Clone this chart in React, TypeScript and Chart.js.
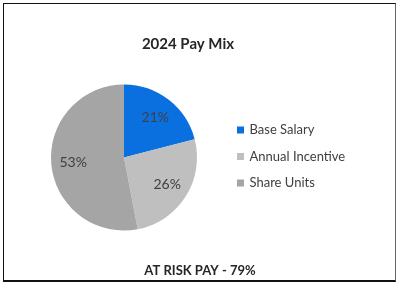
import React, { useEffect, useRef } from "react";
import { Chart, registerables } from "chart.js";

Chart.register(...registerables);

const categories = ["Base Salary", "Annual Incentive", "Share Units"];
const values = [21, 26, 53];
const colors = ["#0A70E0", "#BFBFBF", "#A5A5A5"];
const title = "2024 Pay Mix";
const footer = "AT RISK PAY - 79%";

const FONT = "Lato, 'Noto Sans', sans-serif";

const overlay = {
  id: "overlay",
  afterDatasetsDraw(chart: any) {
    const ctx = chart.ctx;
    const meta = chart.getDatasetMeta(0);
    ctx.save();
    // value labels
    ctx.font = `14px ${FONT}`;
    ctx.fillStyle = "#404040";
    ctx.textAlign = "center";
    ctx.textBaseline = "middle";
    meta.data.forEach((arc: any, i: number) => {
      const p = arc.getProps(["x", "y", "startAngle", "endAngle", "outerRadius"], true);
      const mid = (p.startAngle + p.endAngle) / 2;
      const r = p.outerRadius * 0.7;
      ctx.fillText(values[i] + "%", p.x + Math.cos(mid) * r, p.y + Math.sin(mid) * r);
    });
    // title
    ctx.font = `bold 15px ${FONT}`;
    ctx.fillStyle = "#262626";
    ctx.fillText(title, 188, 44);
    // footer
    ctx.font = `bold 13px ${FONT}`;
    ctx.fillText(footer, 200, 271);
    // legend
    ctx.textAlign = "left";
    ctx.font = `13px ${FONT}`;
    categories.forEach((c, i) => {
      const y = 130 + i * 26.5;
      ctx.fillStyle = colors[i];
      ctx.fillRect(237, y - 3.5, 7, 7);
      ctx.fillStyle = "#404040";
      ctx.fillText(c, 249.5, y);
    });
    ctx.restore();
  },
};

export default function App() {
  const ref = useRef<HTMLCanvasElement>(null);
  useEffect(() => {
    const chart = new Chart(ref.current!, {
      type: "pie",
      data: {
        labels: categories,
        datasets: [
          {
            data: values,
            backgroundColor: colors,
            borderWidth: 0,
          },
        ],
      },
      options: {
        animation: false,
        responsive: false,
        maintainAspectRatio: false,
        layout: { padding: { left: 51, right: 203, top: 84.5, bottom: 55.5 } },
        plugins: {
          legend: { display: false },
          title: { display: false },
          tooltip: { enabled: false },
        },
      },
      plugins: [overlay],
    });
    return () => chart.destroy();
  }, []);
  return (
    <div style={{ position: "fixed", left: 0, top: 0, width: 400, height: 286, background: "#fff" }}>
      <canvas ref={ref} width={400} height={286} style={{ position: "absolute", left: 0, top: 0 }} />
      <div
        style={{
          position: "absolute",
          left: 3,
          top: 3,
          width: 391,
          height: 276,
          borderTop: "1.5px solid #111",
          borderLeft: "1.5px solid #111",
          borderRight: "1px solid #666",
          borderBottom: "2px solid #111",
          pointerEvents: "none",
        }}
      />
    </div>
  );
}
